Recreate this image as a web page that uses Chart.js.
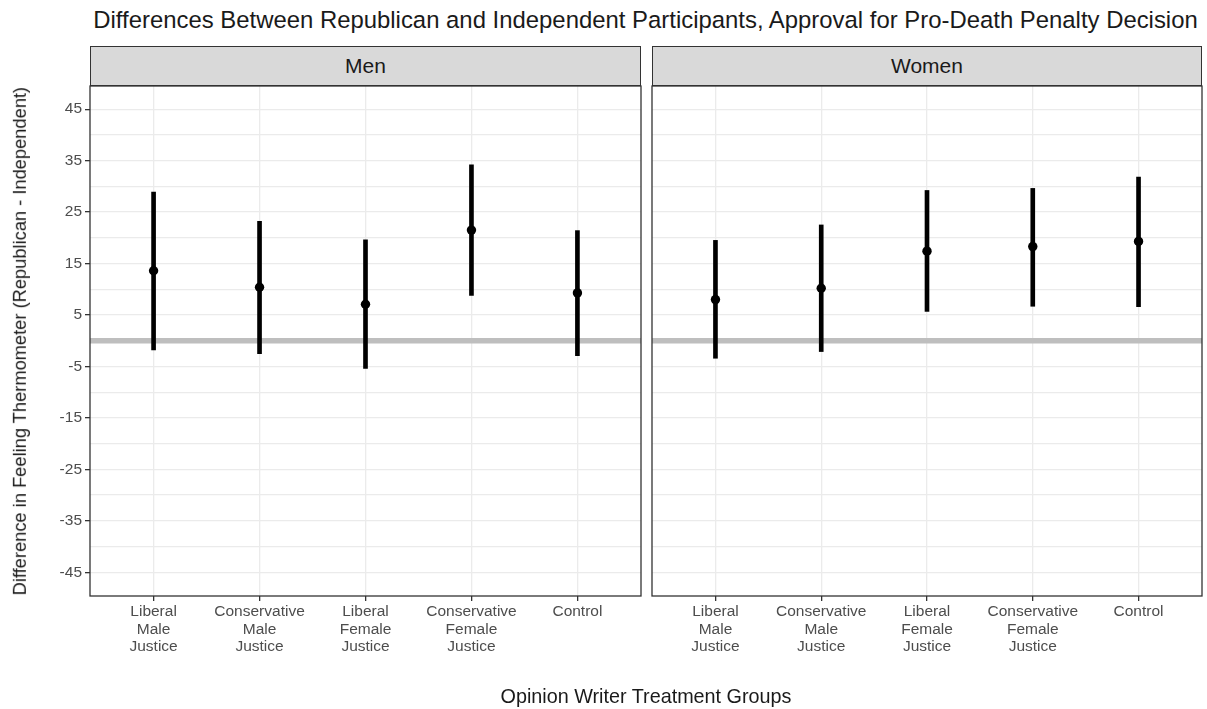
<!DOCTYPE html>
<html>
<head>
<meta charset="utf-8">
<script src="https://cdn.jsdelivr.net/npm/chart.js@4.4.1/dist/chart.umd.min.js"></script>
<style>
  html, body { margin:0; padding:0; background:#ffffff; }
  body { width:1207px; height:709px; position:relative; overflow:hidden; font-family:'Liberation Sans', Arial, sans-serif; }
  canvas { position:absolute; top:0; }
  .txt { position:absolute; color:#1a1a1a; white-space:nowrap; }
  .strip { position:absolute; top:46px; height:40px; box-sizing:border-box; border:1.3px solid #333333; background:#d9d9d9; color:#1a1a1a; font-size:21px; line-height:37px; text-align:center; }
</style>
</head>
<body>
<div class="txt" id="title" style="left:0; width:1291px; top:7.6px; font-size:23.9px; line-height:23.9px; text-align:center;"></div>
<div class="strip" id="strip0" style="left:90px; width:551px;"></div>
<div class="strip" id="strip1" style="left:652px; width:550px;"></div>
<canvas id="c0" width="646" height="709" style="left:0;"></canvas>
<canvas id="c1" width="561" height="709" style="left:646px;"></canvas>
<div class="txt" id="ytitle" style="left:-279.8px; top:331.85px; width:600px; height:18.3px; font-size:18.3px; line-height:18.3px; text-align:center; transform:rotate(-90deg);"></div>
<div class="txt" id="xtitle" style="left:0; width:1292px; top:686.5px; font-size:19.8px; line-height:19.8px; text-align:center;"></div>
<script>
// ---- Data ----
const chartTitle = "Differences Between Republican and Independent Participants, Approval for Pro-Death Penalty Decision";
const xAxisTitle = "Opinion Writer Treatment Groups";
const yAxisTitle = "Difference in Feeling Thermometer (Republican - Independent)";
const panels = ["Men", "Women"];
const categories = [
  ["Liberal", "Male", "Justice"],
  ["Conservative", "Male", "Justice"],
  ["Liberal", "Female", "Justice"],
  ["Conservative", "Female", "Justice"],
  ["Control"]
];
const menEstimate = [13.6, 10.4, 7.1, 21.5, 9.3];
const menLower    = [-1.8, -2.5, -5.4, 8.8, -2.9];
const menUpper    = [28.9, 23.2, 19.6, 34.2, 21.4];
const womenEstimate = [8.0, 10.2, 17.4, 18.3, 19.3];
const womenLower    = [-3.4, -2.1, 5.7, 6.7, 6.6];
const womenUpper    = [19.5, 22.5, 29.2, 29.6, 31.8];
const yTickLabels = [-45, -35, -25, -15, -5, 5, 15, 25, 35, 45];
const yGridValues = [-45, -40, -35, -30, -25, -20, -15, -10, -5, 0, 5, 10, 15, 20, 25, 30, 35, 40, 45];
const referenceLine = 0;
const yMin = -49.6, yMax = 49.5;

document.getElementById('title').textContent = chartTitle;
document.getElementById('xtitle').textContent = xAxisTitle;
document.getElementById('ytitle').textContent = yAxisTitle;
document.getElementById('strip0').textContent = panels[0];
document.getElementById('strip1').textContent = panels[1];

Chart.defaults.font.family = "'Liberation Sans', Arial, sans-serif";

const panelBorder = {
  id: 'panelBorder',
  afterDraw(chart) {
    const a = chart.chartArea, ctx = chart.ctx;
    ctx.save();
    ctx.strokeStyle = '#333333';
    ctx.lineWidth = 1.3;
    ctx.strokeRect(a.left, a.top, a.right - a.left, a.bottom - a.top);
    ctx.restore();
  }
};

function makePanel(canvasId, est, lo, hi, showY) {
  const xs = categories.map((c, i) => i + 1);
  return new Chart(document.getElementById(canvasId), {
    type: 'bar',
    data: {
      datasets: [
        {
          type: 'scatter',
          order: 0,
          data: xs.map((x, i) => ({ x: x, y: est[i] })),
          pointRadius: 4.7,
          pointBackgroundColor: '#000000',
          pointBorderWidth: 0,
          showLine: false
        },
        {
          type: 'bar',
          order: 1,
          data: xs.map((x, i) => ({ x: x, y: [lo[i], hi[i]] })),
          backgroundColor: '#000000',
          borderWidth: 0,
          barThickness: 4,
          borderSkipped: false
        }
      ]
    },
    options: {
      responsive: false,
      animation: false,
      events: [],
      layout: { padding: { top: 86, right: 5, left: 0, bottom: 0 } },
      plugins: { legend: { display: false }, tooltip: { enabled: false }, title: { display: false } },
      scales: {
        x: {
          type: 'linear',
          offset: false,
          min: 0.4, max: 5.6,
          afterBuildTicks: (s) => { s.ticks = xs.map(v => ({ value: v })); },
          afterFit: (s) => { s.height = 113; },
          border: { display: false },
          grid: { offset: false, z: -2, color: '#ebebeb', lineWidth: 1.3, drawTicks: true, tickLength: 5, tickColor: '#333333', tickWidth: 1.3 },
          ticks: {
            autoSkip: false, maxRotation: 0, minRotation: 0, padding: 2,
            color: '#4d4d4d', font: { size: 15.5, lineHeight: 1.13 },
            callback: (v) => categories[Math.round(v) - 1]
          }
        },
        y: {
          type: 'linear',
          min: yMin, max: yMax,
          afterBuildTicks: (s) => { s.ticks = yGridValues.map(v => ({ value: v })); },
          afterFit: (s) => { s.width = showY ? 90 : 6; },
          border: { display: false },
          grid: {
            z: -1,
            color: (c) => (c.tick && c.tick.value === referenceLine) ? '#bebebe' : '#ebebeb',
            lineWidth: (c) => (c.tick && c.tick.value === referenceLine) ? 5.5 : 1.3,
            drawTicks: showY, tickLength: 5, tickWidth: 1.3,
            tickColor: (c) => (c.tick && yTickLabels.includes(c.tick.value)) ? '#333333' : 'rgba(0,0,0,0)'
          },
          ticks: {
            display: showY, padding: 3, color: '#4d4d4d', font: { size: 15.5 },
            callback: (v) => yTickLabels.includes(v) ? String(v) : ''
          }
        }
      }
    },
    plugins: [panelBorder]
  });
}

makePanel('c0', menEstimate, menLower, menUpper, true);
makePanel('c1', womenEstimate, womenLower, womenUpper, false);
</script>
</body>
</html>
